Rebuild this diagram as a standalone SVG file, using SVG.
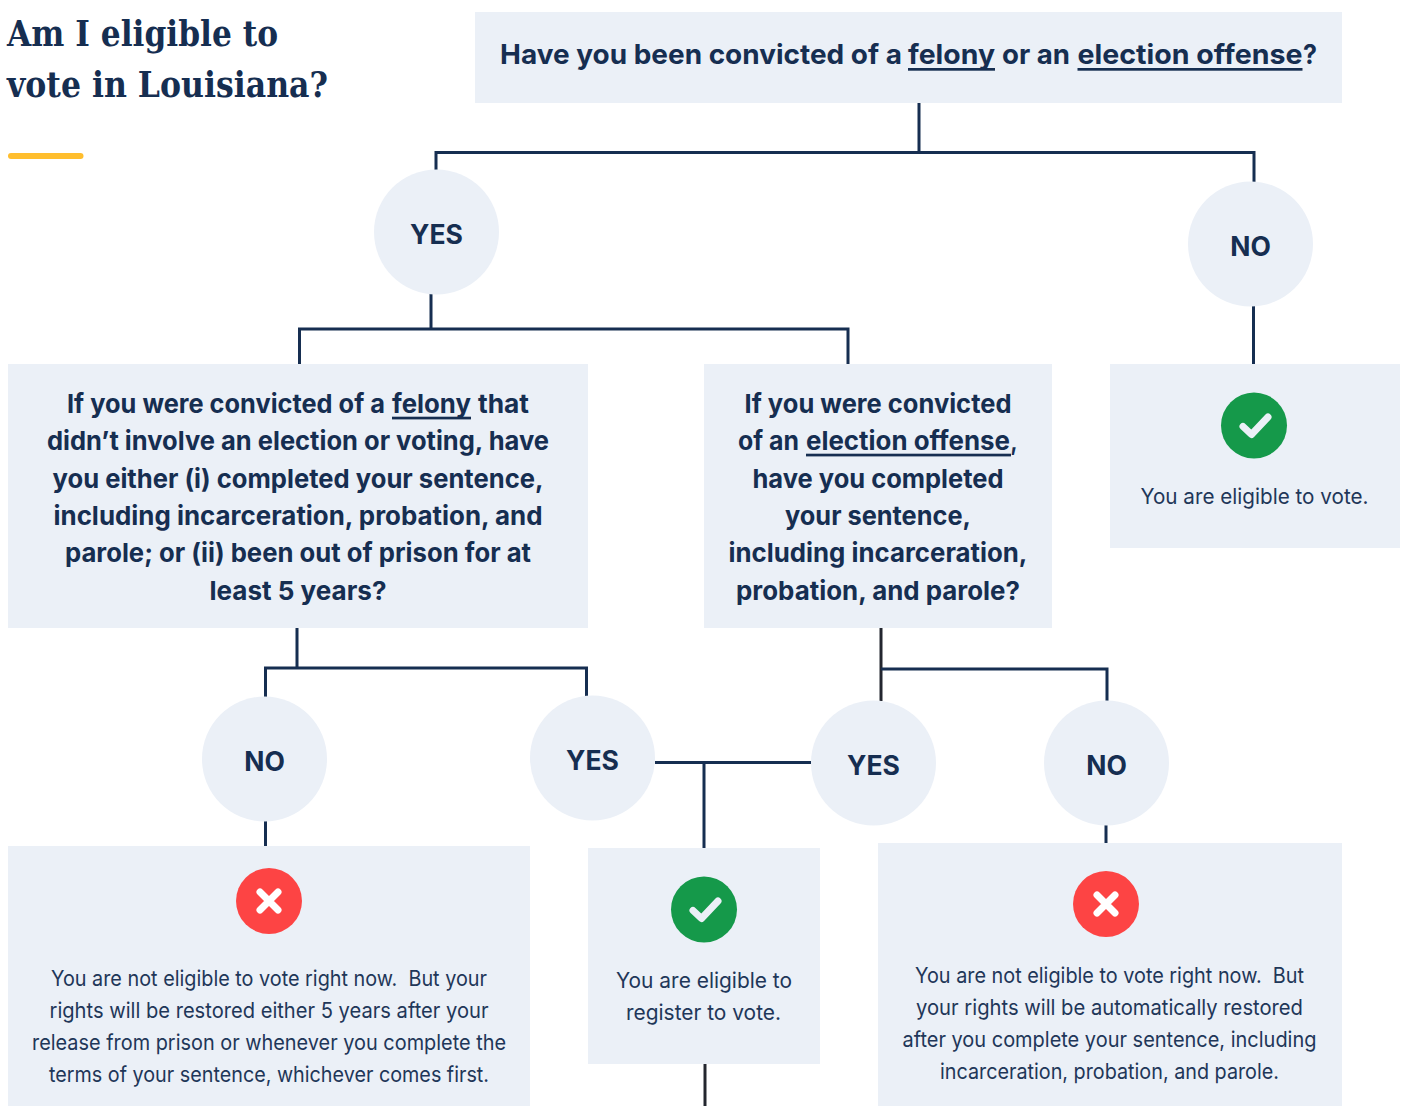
<svg xmlns="http://www.w3.org/2000/svg" width="1401" height="1106" viewBox="0 0 1401 1106">
<style>
.box{fill:#ebf0f7}
.c{fill:none;stroke:#162e51;stroke-width:3}
.k{fill:none;stroke:#23262f;stroke-width:3}
text{fill:#162e51;font-family:"Inter","Liberation Sans",sans-serif;white-space:pre}
.h{font-family:"DejaVu Serif",serif;font-weight:700;font-size:35.500px}
.q{font-weight:700;font-size:26px;text-anchor:middle}
.s{font-weight:700;font-size:26px}
.top{font-weight:700;font-size:27.500px}
.a{font-weight:700;font-size:26.500px;text-anchor:middle}
.t{font-weight:400;font-size:21.500px;text-anchor:middle;fill:#1f3759}
.u{fill:#162e51}
.m{fill:none;stroke:#ebf0f7;stroke-width:7;stroke-linecap:round;stroke-linejoin:round}
.x{fill:none;stroke:#fff;stroke-width:7;stroke-linecap:round}
</style>
<g id="connectors">
<path class="c" d="M919 103V152M436 170V152.500H1254V182"/>
<path class="c" d="M431 294V329M299.500 364V329H848V364"/>
<path class="c" d="M1253.500 306V364"/>
<path class="c" d="M297 628V668M265.500 697V668H586.500V697"/>
<path class="k" d="M881 628V701"/>
<path class="c" d="M881 669H1107V701"/>
<path class="c" d="M655 762.500H811M704 762.500V848"/>
<path class="c" d="M265.500 821V846"/>
<path class="c" d="M1106 825V843"/>
<path class="k" d="M705 1064V1106"/>
</g>
<g id="title">
<text class="h" x="7" y="46" textLength="271" lengthAdjust="spacingAndGlyphs">Am I eligible to</text>
<text class="h" x="7" y="97" textLength="321" lengthAdjust="spacingAndGlyphs">vote in Louisiana?</text>
<rect x="8" y="153" width="75.500" height="6" rx="3" fill="#ffbe2e"/>
</g>
<g id="q-start">
<rect class="box" x="475" y="12" width="867" height="91"/>
<text class="top" x="500" y="64" textLength="402" lengthAdjust="spacingAndGlyphs">Have you been convicted of a</text>
<text class="top" x="908" y="64" textLength="87" lengthAdjust="spacingAndGlyphs">felony</text>
<text class="top" x="1002" y="64" textLength="68" lengthAdjust="spacingAndGlyphs">or an</text>
<text class="top" x="1077.500" y="64" textLength="225" lengthAdjust="spacingAndGlyphs">election offense</text>
<text class="top" x="1303" y="64" textLength="14" lengthAdjust="spacingAndGlyphs">?</text>
<rect class="u" x="908" y="68" width="87" height="2.700"/>
<rect class="u" x="1077.500" y="68" width="225" height="2.700"/>
</g>
<g id="yes-1"><circle class="box" cx="436.500" cy="232" r="62.500"/><text class="a" x="436.500" y="244">YES</text></g>
<g id="no-1"><circle class="box" cx="1250.500" cy="244" r="62.500"/><text class="a" x="1250.500" y="256">NO</text></g>
<g id="q-felony">
<rect class="box" x="8" y="364" width="580" height="264"/>
<text class="s" x="67" y="413" textLength="318" lengthAdjust="spacingAndGlyphs">If you were convicted of a</text>
<text class="s" x="392" y="413" textLength="79" lengthAdjust="spacingAndGlyphs">felony</text>
<text class="s" x="478" y="413" textLength="51" lengthAdjust="spacingAndGlyphs">that</text>
<text class="q" x="298" y="450" textLength="502" lengthAdjust="spacingAndGlyphs">didn’t involve an election or voting, have</text>
<text class="q" x="298" y="488" textLength="491" lengthAdjust="spacingAndGlyphs">you either (i) completed your sentence,</text>
<text class="q" x="298" y="525" textLength="489" lengthAdjust="spacingAndGlyphs">including incarceration, probation, and</text>
<text class="q" x="298" y="562" textLength="466" lengthAdjust="spacingAndGlyphs">parole; or (ii) been out of prison for at</text>
<text class="q" x="298" y="600" textLength="177" lengthAdjust="spacingAndGlyphs">least 5 years?</text>
<rect class="u" x="392" y="416.700" width="79" height="2.700"/>
</g>
<g id="q-election">
<rect class="box" x="704" y="364" width="348" height="264"/>
<text class="q" x="878" y="413" textLength="267" lengthAdjust="spacingAndGlyphs">If you were convicted</text>
<text class="s" x="738" y="450" textLength="61" lengthAdjust="spacingAndGlyphs">of an</text>
<text class="s" x="806" y="450" textLength="204" lengthAdjust="spacingAndGlyphs">election offense</text>
<text class="s" x="1010.500" y="450" textLength="7" lengthAdjust="spacingAndGlyphs">,</text>
<text class="q" x="878" y="488" textLength="251" lengthAdjust="spacingAndGlyphs">have you completed</text>
<text class="q" x="878" y="525" textLength="186" lengthAdjust="spacingAndGlyphs">your sentence,</text>
<text class="q" x="878" y="562" textLength="299" lengthAdjust="spacingAndGlyphs">including incarceration,</text>
<text class="q" x="878" y="600" textLength="284" lengthAdjust="spacingAndGlyphs">probation, and parole?</text>
<rect class="u" x="806" y="453.700" width="205" height="2.700"/>
</g>
<g id="r-eligible">
<rect class="box" x="1110" y="364" width="290" height="184"/>
<circle cx="1254" cy="425.500" r="33" fill="#15994a"/>
<path class="m" d="M1243 426.500L1251.500 434.500L1268 417"/>
<text class="t" x="1254.500" y="504" textLength="228" lengthAdjust="spacingAndGlyphs">You are eligible to vote.</text>
</g>
<g id="no-2"><circle class="box" cx="264.500" cy="759" r="62.500"/><text class="a" x="264.500" y="771">NO</text></g>
<g id="yes-2"><circle class="box" cx="592.500" cy="758" r="62.500"/><text class="a" x="592.500" y="770">YES</text></g>
<g id="yes-3"><circle class="box" cx="873.500" cy="763" r="62.500"/><text class="a" x="873.500" y="775">YES</text></g>
<g id="no-3"><circle class="box" cx="1106.500" cy="763" r="62.500"/><text class="a" x="1106.500" y="775">NO</text></g>
<g id="r-not-1">
<rect class="box" x="8" y="846" width="522" height="260"/>
<circle cx="269" cy="901" r="33" fill="#fd4444"/>
<path class="x" d="M260 892L278 910M278 892L260 910"/>
<text class="t" x="269" y="986" textLength="436" lengthAdjust="spacingAndGlyphs">You are not eligible to vote right now.  But your</text>
<text class="t" x="269" y="1018" textLength="439" lengthAdjust="spacingAndGlyphs">rights will be restored either 5 years after your</text>
<text class="t" x="269" y="1050" textLength="474" lengthAdjust="spacingAndGlyphs">release from prison or whenever you complete the</text>
<text class="t" x="269" y="1082" textLength="440" lengthAdjust="spacingAndGlyphs">terms of your sentence, whichever comes first.</text>
</g>
<g id="r-register">
<rect class="box" x="588" y="848" width="232" height="216"/>
<circle cx="704" cy="909.500" r="33" fill="#15994a"/>
<path class="m" d="M693 910.500L701.500 918.500L718 901"/>
<text class="t" x="704" y="988" textLength="176" lengthAdjust="spacingAndGlyphs">You are eligible to</text>
<text class="t" x="703.500" y="1020" textLength="155" lengthAdjust="spacingAndGlyphs">register to vote.</text>
</g>
<g id="r-not-2">
<rect class="box" x="878" y="843" width="464" height="263"/>
<circle cx="1106" cy="904" r="33" fill="#fd4444"/>
<path class="x" d="M1097 895L1115 913M1115 895L1097 913"/>
<text class="t" x="1109.500" y="983" textLength="389" lengthAdjust="spacingAndGlyphs">You are not eligible to vote right now.  But</text>
<text class="t" x="1109.500" y="1015" textLength="387" lengthAdjust="spacingAndGlyphs">your rights will be automatically restored</text>
<text class="t" x="1109.500" y="1047" textLength="414" lengthAdjust="spacingAndGlyphs">after you complete your sentence, including</text>
<text class="t" x="1109.500" y="1079" textLength="339" lengthAdjust="spacingAndGlyphs">incarceration, probation, and parole.</text>
</g>
</svg>
